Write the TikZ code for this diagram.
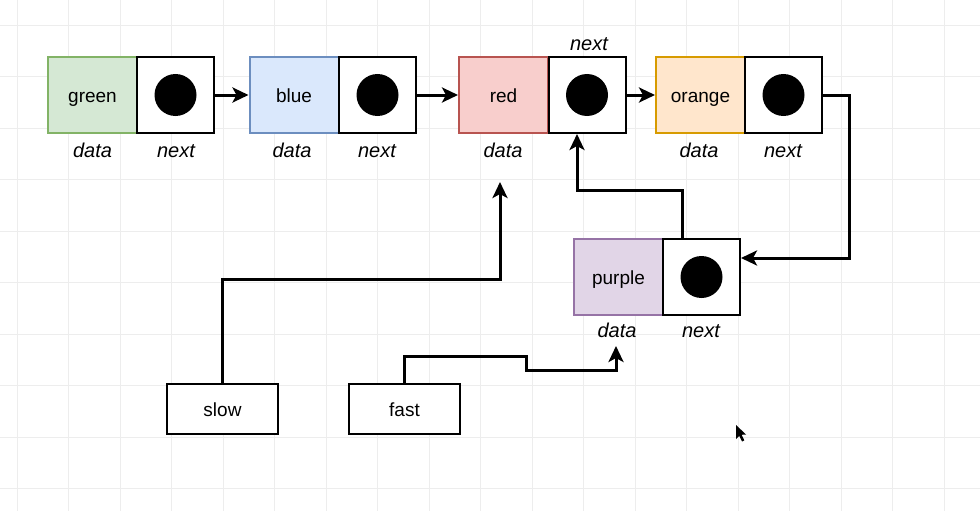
\documentclass[tikz,border=0pt]{standalone}
\usepackage{fontspec}
\setmainfont{Liberation Sans}
\usetikzlibrary{arrows.meta}
\definecolor{gridc}{HTML}{EDEDED}
\definecolor{gfill}{HTML}{D5E8D4}\definecolor{gline}{HTML}{82B366}
\definecolor{bfill}{HTML}{DAE8FC}\definecolor{bline}{HTML}{6C8EBF}
\definecolor{rfill}{HTML}{F8CECC}\definecolor{rline}{HTML}{B85450}
\definecolor{ofill}{HTML}{FFE6CC}\definecolor{oline}{HTML}{D79B00}
\definecolor{pfill}{HTML}{E1D5E7}\definecolor{pline}{HTML}{9673A6}
\tikzset{
  datacell/.style={draw, line width=2pt, minimum width=89pt, minimum height=76pt, inner sep=0pt, text height=16pt, text depth=1pt, font=\fontsize{19}{22}\selectfont},
  nextcell/.style={draw=black, fill=white, line width=2pt, minimum width=77pt, minimum height=76pt, inner sep=0pt},
  dot/.style={circle, fill=black, minimum size=42pt, inner sep=0pt},
  lbl/.style={font=\fontsize{20}{24}\selectfont\itshape, inner sep=0pt, text height=14.5pt, text depth=4pt},
  ptrbox/.style={draw=black, fill=white, line width=2pt, minimum width=111pt, minimum height=50pt, inner sep=0pt, text height=16pt, text depth=1pt, font=\fontsize{19}{22}\selectfont},
  conn/.style={line width=3pt, -{Stealth[length=16pt,width=15pt,inset=4pt]}},
}
\begin{document}
\begin{tikzpicture}[x=1pt,y=-1pt]
\useasboundingbox (0,0) rectangle (980,511);
\fill[white] (0,0) rectangle (980,511);
% grid
\foreach \i in {0,...,18} {\draw[gridc, line width=0.8pt] (17+51.5*\i,0) -- (17+51.5*\i,511);}
\foreach \j in {0,...,9} {\draw[gridc, line width=0.8pt] (0,25+51.5*\j) -- (980,25+51.5*\j);}

% list cells
\node[datacell, fill=gfill, draw=gline] (gd) at (92.5,95) {green};
\node[nextcell] (gn) at (175.5,95) {};
\node[dot] (gc) at (gn) {};
\node[datacell, fill=bfill, draw=bline] (bd) at (294,95) {blue};
\node[nextcell] (bn) at (377.5,95) {};
\node[dot] (bc) at (bn) {};
\node[datacell, fill=rfill, draw=rline] (rd) at (503.5,95) {red};
\node[nextcell] (rn) at (587,95) {};
\node[dot] (rc) at (rn) {};
\node[datacell, fill=ofill, draw=oline] (od) at (700.5,95) {orange};
\node[nextcell] (on) at (783.5,95) {};
\node[dot] (oc) at (on) {};
\node[datacell, fill=pfill, draw=pline] (pd) at (618.5,277) {purple};
\node[nextcell] (pn) at (701.5,277) {};
\node[dot] (pc) at (pn) {};

% labels
\node[lbl] (l1) at (92.5,152) {data};
\node[lbl] (l2) at (176,152) {next};
\node[lbl] (l3) at (292,152) {data};
\node[lbl] (l4) at (377,152) {next};
\node[lbl] (l5) at (503,152) {data};
\node[lbl] (l6) at (589,45) {next};
\node[lbl] (l7) at (699,152) {data};
\node[lbl] (l8) at (783,152) {next};
\node[lbl] (l9) at (617,332) {data};
\node[lbl] (l10) at (701,332) {next};

% pointer boxes
\node[ptrbox] (slow) at (222.5,409) {slow};
\node[ptrbox] (fast) at (404.5,409) {fast};

% connectors
\draw[conn] (gn.east) -- (bd.west);
\draw[conn] (bn.east) -- (rd.west);
\draw[conn] (rn.east) -- (od.west);
\coordinate (t1) at (849,258);
\draw[conn] (on.east) -| (t1) -- (pn.east |- t1);
\draw[conn] ([xshift=-19.5pt]pn.north) -- ++(0,-48) -| ([xshift=-10pt]rn.south);
\coordinate (sd) at (500,182);
\draw[conn] (slow.north) -- ++(0,-104) -| (sd);
\coordinate (fd) at (616,346);
\draw[conn] (fast.north) -- ++(0,-27) -- ++(122,0) -- ++(0,14) -| (fd);

% mouse cursor
\fill[black] (736,425) -- (736,439) -- (739.2,435.8) -- (742,441.5) -- (744.3,440.4) -- (741.6,434.8) -- (746,434.5) -- cycle;
\end{tikzpicture}
\end{document}
